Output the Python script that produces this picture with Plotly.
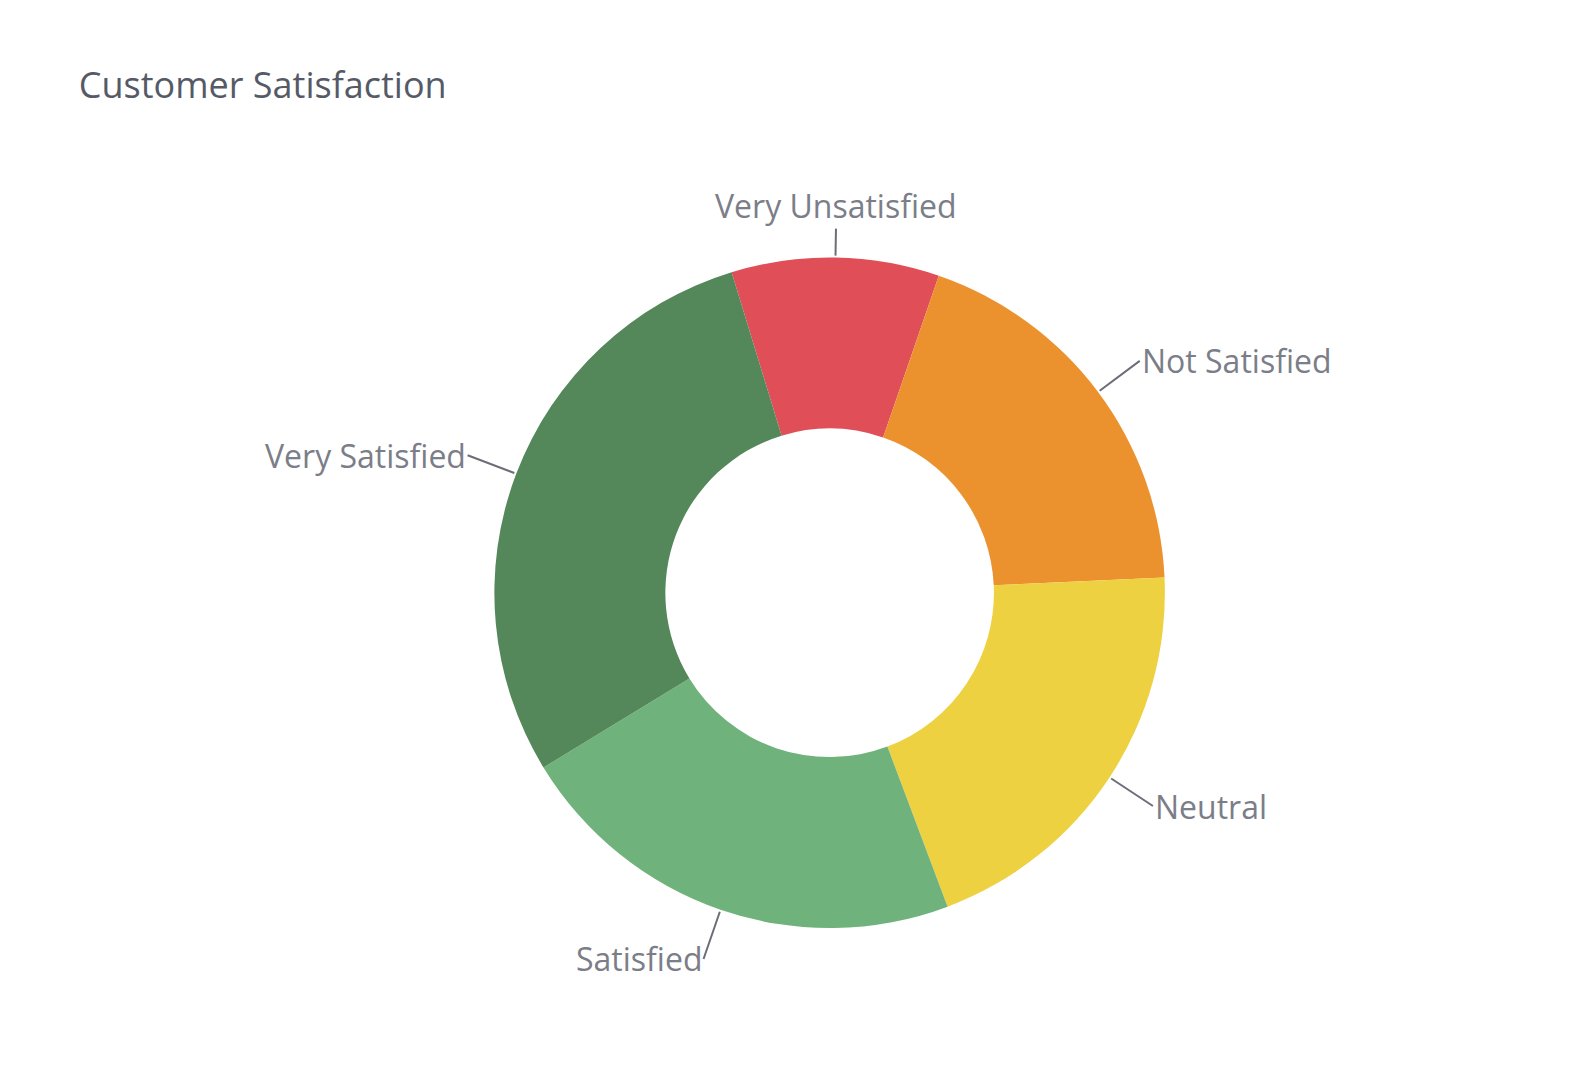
import math
import plotly.graph_objects as go

labels = ["Very Unsatisfied", "Not Satisfied", "Neutral", "Satisfied", "Very Satisfied"]
values = [10, 19, 20, 22, 29]
colors = ["#e04e57", "#eb922f", "#eed141", "#70b27b", "#54875a"]

W, H = 1574, 1080
dom_x = [0.309, 0.735]
dom_y = [0.148, 0.769]
rotation = -17

fig = go.Figure(go.Pie(
    labels=labels, values=values, hole=0.49, sort=False, direction="clockwise",
    rotation=rotation, marker=dict(colors=colors, line=dict(width=0)),
    textinfo="none", hoverinfo="label+percent",
    domain=dict(x=dom_x, y=dom_y),
    showlegend=False,
))

# outside labels with leader lines, placed at each slice's mid angle
cx = (dom_x[0] + dom_x[1]) / 2
cy = (dom_y[0] + dom_y[1]) / 2
r_px = (dom_x[1] - dom_x[0]) * W / 2
total = sum(values)
start = rotation
for lab, v in zip(labels, values):
    mid = math.radians(start + 360 * v / total / 2)
    start += 360 * v / total
    sx, sy = math.sin(mid), math.cos(mid)
    fig.add_annotation(
        x=cx + (r_px + 2) * sx / W, y=cy + (r_px + 2) * sy / H,
        xref="paper", yref="paper",
        ax=50 * sx, ay=-50 * sy,
        text=lab, showarrow=True, arrowhead=0, arrowwidth=2, arrowcolor="#6b6e78",
        xanchor="left" if sx > 0.15 else ("right" if sx < -0.15 else "center"),
        font=dict(size=32, color="#7b7e88", family="Open Sans"),
    )

fig.update_layout(
    width=W, height=H,
    margin=dict(l=0, r=0, t=0, b=0),
    paper_bgcolor="white",
    title=dict(text="Customer Satisfaction", x=0.045, y=0.94, xanchor="left",
               font=dict(size=36, color="#555a66", family="Open Sans")),
)

fig.write_html("out.html")
